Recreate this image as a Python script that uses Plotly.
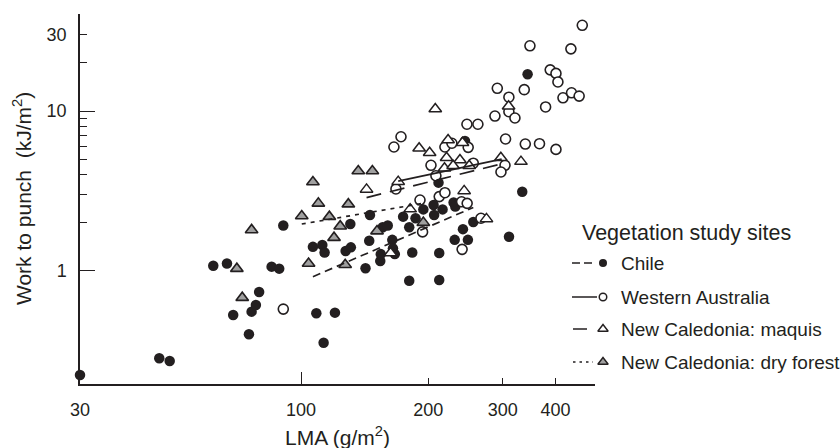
import math
import plotly.graph_objects as go

# ---------------- data ----------------
chile_lma = [30.0, 46.2, 48.9, 62, 66.8, 69.1, 76.4, 78.2, 79.6, 75.3, 85.2, 88.8, 90.8,
             108.7, 120.3, 113.1, 106.7, 112.3, 113.7, 127.5, 131.2, 130.8, 142.1, 145,
             145.6, 154, 154.4, 156, 160.4, 164.4, 165, 166.7, 174.4, 180.3, 183.3, 180.3,
             186.6, 194.7, 205.9, 206.5, 216.2, 211.5, 212.3, 212.3, 229.6, 231.7, 231,
             241.6, 248.2, 255.6, 310.5, 333.7, 343.6, 244.3]
chile_work = [0.222, 0.283, 0.272, 1.075, 1.11, 0.528, 0.554, 0.61, 0.736, 0.40, 1.06, 1.03,
              1.92, 0.541, 0.546, 0.354, 1.41, 1.45, 1.30, 1.33, 1.40, 1.96, 1.035, 1.54,
              2.23, 1.15, 1.27, 1.87, 1.92, 1.56, 1.38, 1.27, 2.18, 1.87, 1.30, 0.866,
              2.13, 2.42, 2.58, 2.23, 2.42, 3.56, 1.29, 0.875, 2.67, 2.52, 1.56,
              1.82, 1.56, 2.02, 1.63, 3.12, 16.98, 6.49]

wa_lma = [462.8, 348, 435, 388.6, 401, 405.3, 291.3, 337.4, 310.3, 310.3, 320.7, 287.6,
          379, 416.6, 436.5, 455, 246.9, 262.1, 172.4, 165.9, 219, 227.5, 248.6, 304.7,
          339.3, 366.6, 401, 203, 208.5, 255.6, 303.8, 297.2, 167.7, 191.2, 212.3, 219,
          239.8, 247.2, 266.5, 193.9, 240.5, 90.8]
wa_work = [34.4, 25.6, 24.5, 18.1, 17.2, 15.2, 13.87, 13.6, 12.2, 9.9, 9.04, 9.3,
           10.6, 12.1, 13.0, 12.4, 8.26, 8.26, 6.90, 5.95, 5.95, 6.28, 5.92, 6.68,
           6.21, 6.24, 5.75, 4.57, 3.93, 4.71, 4.57, 4.15, 3.25, 2.77, 2.91, 3.08,
           2.70, 2.64, 2.13, 1.75, 1.36, 0.575]

maquis_lma = [207.8, 142.9, 169.8, 190.3, 201.5, 221, 222.8, 237.7, 241, 218.5, 229, 250,
              297, 331.4, 309.8, 243.2, 274.6, 181.2, 162.9]
maquis_work = [10.3, 3.23, 3.61, 5.84, 5.48, 5.10, 6.58, 4.93, 6.33, 4.38, 4.54, 4.54,
               5.10, 4.82, 10.7, 3.16, 2.11, 2.43, 1.29]

dry_lma = [76.4, 70.5, 72.6, 100.4, 106.7, 109.9, 116.7, 123.8, 119.7, 129.4, 104.2,
           127.2, 136.6, 147.5, 151.3, 194.7]
dry_work = [1.80, 1.03, 0.678, 2.20, 3.59, 2.64, 2.18, 1.90, 1.61, 2.61, 1.11,
            1.09, 4.21, 4.21, 1.77, 2.0]

# fitted lines (end points)
chile_fit_lma, chile_fit_work = [106.7, 255.6], [0.917, 2.49]
wa_fit_lma, wa_fit_work = [169.8, 298.3], [3.64, 5.0]
maquis_fit_lma, maquis_fit_work = [142.9, 301.2], [2.87, 4.70]
dry_fit_lma, dry_fit_work = [100.4, 196.0], [1.96, 2.65]

x_tick_vals = [30, 100, 200, 300, 400]
x_tick_text = ["30", "100", "200", "300", "400"]
y_tick_vals = [1, 10, 30]
y_tick_text = ["1", "10", "30"]
y_minor_vals = [2, 3, 4, 5, 6, 7, 8, 9, 20]

legend_title = "Vegetation study sites"
legend_labels = ["Chile", "Western Australia", "New Caledonia: maquis",
                 "New Caledonia: dry forest"]

# ---------------- style ----------------
FONT = "Liberation Sans, Arial, Helvetica, sans-serif"
INK = "#231f20"
GREY = "#a0a0a0"
W, H = 840, 448
ML, MT, MB = 80, 14, 64
PLOT_W = 515
X_RANGE = [math.log10(30), 2.6955]
Y_RANGE = [-0.7095, 1.6074]
DOM_X = [0, PLOT_W / (W - ML)]

fig = go.Figure()

def markers(x, y, symbol, size, fill, lw):
    return go.Scatter(x=x, y=y, mode="markers", cliponaxis=False, showlegend=False,
                      hoverinfo="skip",
                      marker=dict(symbol=symbol, size=size, color=fill,
                                  line=dict(color=INK, width=lw)))

fig.add_trace(markers(chile_lma, chile_work, "circle", 10.5, INK, 0))
fig.add_trace(markers(wa_lma, wa_work, "circle", 10, "white", 1.6))
fig.add_trace(markers(maquis_lma, maquis_work, "triangle-up", 11, "white", 1.5))
fig.add_trace(markers(dry_lma, dry_work, "triangle-up", 11, GREY, 1.6))

def fit(x, y, dash):
    return go.Scatter(x=x, y=y, mode="lines", showlegend=False, hoverinfo="skip",
                      line=dict(color=INK, width=1.7, dash=dash))

fig.add_trace(fit(chile_fit_lma, chile_fit_work, "8px,5px"))
fig.add_trace(fit(wa_fit_lma, wa_fit_work, "solid"))
fig.add_trace(fit(maquis_fit_lma, maquis_fit_work, "15px,9px"))
fig.add_trace(fit(dry_fit_lma, dry_fit_work, "4px,5px"))

# overlay axes carrying the long major ticks
fig.add_trace(go.Scatter(x=[100], y=[1], xaxis="x2", yaxis="y2", mode="markers",
                         marker=dict(opacity=0), showlegend=False, hoverinfo="skip"))

# ---------------- custom legend (own pixel-like axes over the whole area) ----------------
leg_rows = [263, 297, 329, 362]
leg_mark_x = 603
leg_line_spans = [(572, 593), (572, 597), (573, 587), (573, 593)]
leg_dashes = ["8px,4px", "solid", "solid", "2.5px,4px"]
leg_marks = [("circle", 8, INK, 0), ("circle", 7.5, "white", 1.5),
             ("triangle-up", 9, "white", 1.4), ("triangle-up", 9, GREY, 1.4)]

for (x0, x1), yrow, dash, (sym, sz, fill, lw) in zip(leg_line_spans, leg_rows,
                                                     leg_dashes, leg_marks):
    fig.add_trace(go.Scatter(x=[x0, x1], y=[yrow, yrow], xaxis="x3", yaxis="y3",
                             mode="lines", line=dict(color=INK, width=1.5, dash=dash),
                             showlegend=False, hoverinfo="skip"))
    fig.add_trace(go.Scatter(x=[leg_mark_x], y=[yrow], xaxis="x3", yaxis="y3",
                             mode="markers", cliponaxis=False,
                             marker=dict(symbol=sym, size=sz, color=fill,
                                         line=dict(color=INK, width=lw)),
                             showlegend=False, hoverinfo="skip"))

annotations = [
    dict(text=legend_title, x=580, y=233, xref="x3", yref="y3", xanchor="left",
         yanchor="middle", showarrow=False, font=dict(family=FONT, size=21.5, color=INK)),
]
for lab, yrow in zip(legend_labels, leg_rows):
    annotations.append(dict(text=lab, x=619, y=yrow, xref="x3", yref="y3",
                            xanchor="left", yanchor="middle", showarrow=False,
                            font=dict(family=FONT, size=19, color=INK)))

# axis titles
annotations.append(dict(text="LMA (g/m<sup>2</sup>)", xref="paper", yref="paper",
                        x=(337.5 - ML) / (W - ML), y=(384 - 436) / (H - MT - MB),
                        xanchor="center", yanchor="middle", showarrow=False,
                        font=dict(family=FONT, size=21, color=INK)))
annotations.append(dict(text="Work to punch\u00a0\u00a0(kJ/m<sup>2</sup>)", xref="paper",
                        yref="paper", x=(22 - ML) / (W - ML), y=0.5, textangle=-90,
                        xanchor="center", yanchor="middle", showarrow=False,
                        font=dict(family=FONT, size=21, color=INK)))

tickfont = dict(family=FONT, size=18, color=INK)

fig.update_layout(
    width=W, height=H, margin=dict(l=ML, r=0, t=MT, b=MB),
    paper_bgcolor="white", plot_bgcolor="rgba(0,0,0,0)", showlegend=False,
    annotations=annotations,
    xaxis=dict(type="log", range=X_RANGE, domain=DOM_X, anchor="y",
               showline=True, linecolor=INK, linewidth=1.5, mirror=False,
               showgrid=False, zeroline=False,
               tickmode="array", tickvals=x_tick_vals, ticktext=x_tick_text,
               ticks="inside", ticklen=6, tickwidth=1.3, tickcolor=INK,
               tickfont=tickfont, ticklabelstandoff=9),
    yaxis=dict(type="log", range=Y_RANGE, domain=[0, 1], anchor="x",
               showline=True, linecolor=INK, linewidth=1.5, mirror=False,
               showgrid=False, zeroline=False,
               tickmode="array", tickvals=y_tick_vals, ticktext=y_tick_text,
               ticks="inside", ticklen=7, tickwidth=1.3, tickcolor=INK,
               tickfont=tickfont, ticklabelstandoff=8,
               minor=dict(tickmode="array", tickvals=y_minor_vals, ticks="inside",
                          ticklen=7, tickwidth=1.3, tickcolor=INK, showgrid=False)),
    xaxis2=dict(type="log", range=X_RANGE, domain=DOM_X, overlaying="x", anchor="y2",
                side="bottom", showline=False, showgrid=False, zeroline=False,
                tickmode="array", tickvals=[100], ticks="inside", ticklen=12,
                tickwidth=1.3, tickcolor=INK, showticklabels=False),
    yaxis2=dict(type="log", range=Y_RANGE, domain=[0, 1], overlaying="y", anchor="x2",
                side="left", showline=False, showgrid=False, zeroline=False,
                tickmode="array", tickvals=[1, 10], ticks="inside", ticklen=15,
                tickwidth=1.3, tickcolor=INK, showticklabels=False),
    xaxis3=dict(domain=[0, 1], range=[ML, W], anchor="y3", visible=False,
                fixedrange=True),
    yaxis3=dict(domain=[0, 1], range=[H - MB, MT], anchor="x3", visible=False,
                fixedrange=True),
)

fig.write_html("out.html")
